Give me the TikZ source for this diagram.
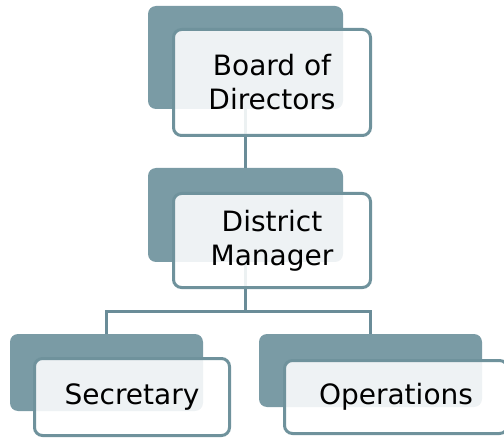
\documentclass[tikz,border=0pt]{standalone}
\usepackage{fontspec}
\setmainfont{DejaVu Sans}
\definecolor{slate}{HTML}{7A9BA5}
\definecolor{slateline}{HTML}{6F929C}
\definecolor{linkcol}{HTML}{6A8C98}
\tikzset{
  backbox/.style={rectangle, rounded corners=8pt, fill=slate, draw=none, inner sep=0pt},
  frontbox/.style={rectangle, rounded corners=8pt, draw=slateline, line width=3pt,
    fill=white, fill opacity=0.88, text opacity=1, draw opacity=1,
    font=\fontsize{28}{34}\selectfont, align=center, inner sep=0pt},
  link/.style={draw=linkcol, line width=3pt}
}
\begin{document}
\begin{tikzpicture}[x=1pt,y=-1pt]
\useasboundingbox (0,0) rectangle (504,441);
\clip (0,0) rectangle (504,441);
% back boxes
\node[backbox, minimum width=195pt, minimum height=103pt] (tb) at (245.5,57.5) {};
\node[backbox, minimum width=195pt, minimum height=94pt] (mb) at (245.5,215) {};
\node[backbox, minimum width=193pt, minimum height=77pt] (lb) at (106.5,372.5) {};
\node[backbox, minimum width=223pt, minimum height=73pt] (rb) at (370.5,370.5) {};
% connectors
\coordinate (j) at (245.5,311);
\draw[link] (tb.south) -- (mb.north);
\draw[link] (mb.south) -- (j) -| (lb.north);
\draw[link] (j) -| (rb.north);
% front boxes
\node[frontbox, minimum width=197pt, minimum height=106pt] (tf) at (272,82.5) {Board of\\Directors};
\node[frontbox, minimum width=197pt, minimum height=94pt] (mf) at (272,240.5) {District\\Manager};
\node[frontbox, minimum width=195pt, minimum height=77pt] (lf) at (132,397) {\raisebox{2pt}{Secretary}};
\node[frontbox, minimum width=223pt, minimum height=73pt] (rf) at (396,397) {\raisebox{3pt}{Operations}};
\end{tikzpicture}
\end{document}
